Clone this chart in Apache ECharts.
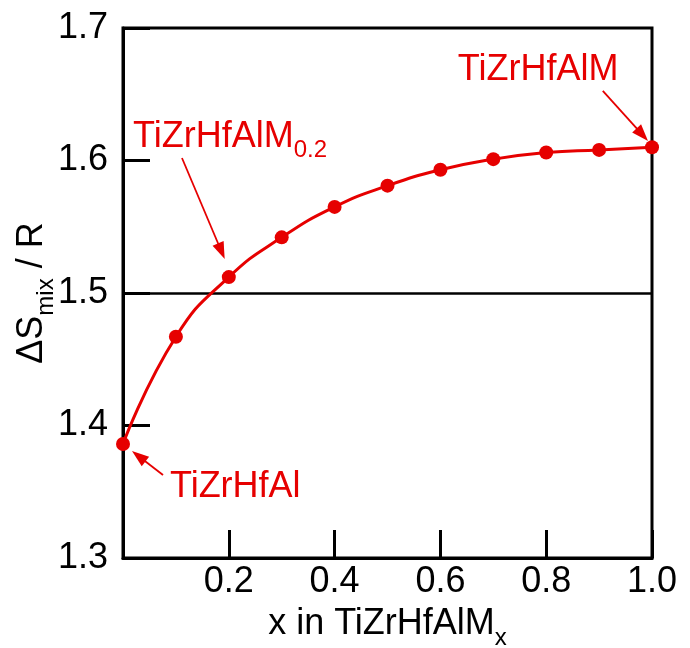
<!DOCTYPE html>
<html>
<head>
<meta charset="utf-8">
<script src="https://cdn.jsdelivr.net/npm/echarts@6/dist/echarts.min.js"></script>
<style>
html,body{margin:0;padding:0;background:#fff;}
#chart{width:690px;height:648px;}
</style>
</head>
<body>
<div id="chart"></div>
<script>
// Data
const xValues = [0, 0.1, 0.2, 0.3, 0.4, 0.5, 0.6, 0.7, 0.8, 0.9, 1.0];
const entropyValues = [1.386, 1.467, 1.512, 1.542, 1.565, 1.581, 1.593, 1.601, 1.606, 1.608, 1.610];
const annotationLabels = ['TiZrHfAlM', 'TiZrHfAlM', 'TiZrHfAl'];
const annotationSubs = ['', '0.2', ''];

const RED = '#e60000';
const FONT = '"Liberation Sans", Arial, Helvetica, sans-serif';

const chart = echarts.init(document.getElementById('chart'));

const seriesData = xValues.map((x, i) => [x, entropyValues[i]]);

function richLabel(main, sub) {
  return sub ? '{a|' + main + '}{b|' + sub + '}' : '{a|' + main + '}';
}
const labelRich = {
  a: {fontSize: 36, color: RED, fontFamily: FONT, lineHeight: 52, verticalAlign: 'middle'},
  b: {fontSize: 24, color: RED, fontFamily: FONT, lineHeight: 52, verticalAlign: 'bottom'}
};

function arrow(from, to) {
  return [
    {coord: from, symbol: 'none'},
    {coord: to, symbol: 'triangle', symbolSize: [12, 17]}
  ];
}

const option = {
  animation: false,
  backgroundColor: '#fff',
  grid: {
    left: 123, right: 38, top: 28, bottom: 90,
    show: true, borderColor: '#000', borderWidth: 3,
    outerBoundsMode: 'none'
  },
  xAxis: {
    type: 'value', min: 0, max: 1, interval: 0.2,
    axisLine: {show: true, onZero: false, lineStyle: {color: '#000', width: 3}},
    axisTick: {show: true, inside: true, length: 28, lineStyle: {color: '#000', width: 3}},
    splitLine: {show: false},
    axisLabel: {
      color: '#000', fontSize: 36, fontFamily: FONT, margin: 6,
      formatter: v => (v === 0 ? '' : v.toFixed(1))
    },
    name: '{a|x in TiZrHfAlM}{b|x}',
    nameLocation: 'middle',
    nameGap: 40,
    nameMoveOverlap: false,
    nameTextStyle: {
      rich: {
        a: {fontSize: 36, color: '#000', fontFamily: FONT, lineHeight: 52, verticalAlign: 'middle'},
        b: {fontSize: 24, color: '#000', fontFamily: FONT, lineHeight: 52, verticalAlign: 'bottom'}
      }
    }
  },
  yAxis: {
    type: 'value', min: 1.3, max: 1.7, interval: 0.1,
    axisLine: {show: true, lineStyle: {color: '#000', width: 3}},
    axisTick: {show: true, inside: true, length: 27, lineStyle: {color: '#000', width: 3}},
    splitLine: {show: false},
    axisLabel: {
      color: '#000', fontSize: 36, fontFamily: FONT, margin: 15,
      formatter: v => v.toFixed(1)
    },
    name: '{a|ΔS}{b|mix}{a| / R}',
    nameLocation: 'middle',
    nameRotate: 90,
    nameGap: 65,
    nameMoveOverlap: false,
    nameTextStyle: {
      rich: {
        a: {fontSize: 36, color: '#000', fontFamily: FONT, lineHeight: 52, verticalAlign: 'middle'},
        b: {fontSize: 24, color: '#000', fontFamily: FONT, lineHeight: 52, verticalAlign: 'bottom'}
      }
    }
  },
  series: [{
    type: 'line',
    data: seriesData,
    smooth: 0.5,
    symbol: 'circle',
    symbolSize: 14,
    clip: false,
    lineStyle: {color: RED, width: 3},
    itemStyle: {color: RED},
    z: 5,
    markLine: {
      silent: true,
      animation: false,
      label: {show: false},
      symbol: ['none', 'none'],
      data: [
        [{coord: [0, 1.5], symbol: 'none', lineStyle: {color: '#000', width: 2.5, type: 'solid'}},
         {coord: [1, 1.5], symbol: 'none'}],
        arrow([0.907, 1.6525], [0.9817, 1.6195]),
        arrow([0.1115, 1.6019], [0.186, 1.5315]),
        arrow([0.0756, 1.3626], [0.0297, 1.3768])
      ].map((d, i) => {
        if (i > 0) {
          d[0].lineStyle = {color: RED, width: 1.8, type: 'solid'};
          d[0].itemStyle = {color: RED};
          d[1].itemStyle = {color: RED};
        }
        return d;
      })
    },
    markPoint: {
      silent: true,
      animation: false,
      symbol: 'circle',
      symbolSize: 0,
      label: {show: true, position: 'inside', align: 'left', verticalAlign: 'middle', rich: labelRich},
      data: [
        {coord: [0.633, 1.668], label: {formatter: richLabel(annotationLabels[0], annotationSubs[0])}},
        {coord: [0.0189, 1.618], label: {formatter: richLabel(annotationLabels[1], annotationSubs[1])}},
        {coord: [0.0888, 1.3532], label: {formatter: richLabel(annotationLabels[2], annotationSubs[2])}}
      ]
    }
  }]
};

chart.setOption(option);
</script>
</body>
</html>
